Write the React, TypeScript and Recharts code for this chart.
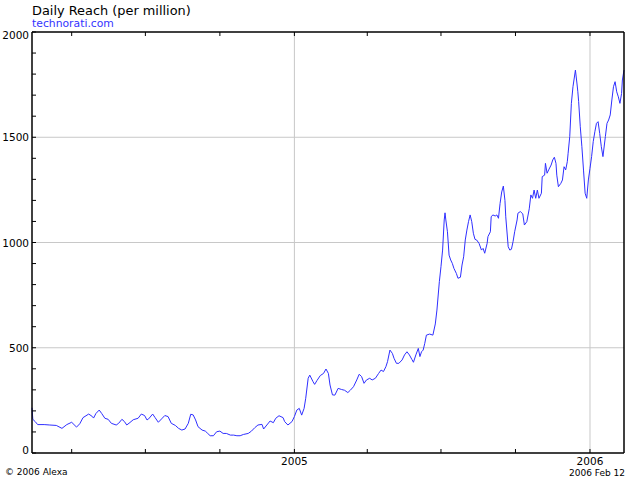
import { LineChart, Line, XAxis, YAxis, ReferenceLine } from "recharts";

// days since 2004 Feb 12
const days = [
  0, 1, 4, 7, 15, 22, 30, 37, 43, 49,
  55, 59, 63, 70, 74, 76, 79, 83, 86, 90,
  94, 98, 104, 107, 111, 114, 117, 121, 125, 131,
  135, 139, 142, 144, 149, 152, 156, 160, 164, 168,
  172, 177, 181, 185, 189, 193, 196, 199, 202, 205,
  210, 214, 217, 220, 224, 228, 232, 236, 240, 245,
  249, 253, 257, 261, 267, 271, 275, 279, 284, 286,
  290, 294, 298, 301, 305, 310, 312, 316, 321, 324,
  327, 330, 333, 336, 338, 341, 343, 347, 349, 352,
  356, 360, 363, 366, 368, 371, 374, 378, 382, 386,
  390, 393, 397, 401, 404, 407, 410, 413, 417, 420,
  424, 428, 431, 434, 437, 439, 442, 445, 447, 450,
  453, 457, 460, 463, 466, 469, 471, 474, 477, 479,
  481, 483, 485, 487, 491, 495, 498, 500, 503, 505,
  507, 509, 510, 511, 513, 515, 517, 519, 521, 524,
  526, 529, 531, 533, 535, 537, 539, 541, 543, 545,
  547, 549, 552, 555, 557, 559, 562, 563, 566, 567,
  569, 572, 574, 576, 578, 580, 582, 584, 585, 588,
  590, 592, 594, 596, 599, 600, 603, 606, 608, 611,
  614, 616, 618, 620, 622, 624, 626, 629, 630, 633,
  634, 636, 638, 641, 643, 645, 647, 648, 650, 653,
  655, 657, 659, 661, 662, 664, 666, 668, 671, 673,
  674, 675, 677, 679, 681, 683, 685, 687, 689, 691,
  693, 695, 697, 699, 701, 703, 705, 708, 710, 712,
  714, 716, 718, 720, 722, 724, 726, 728, 729, 731,
];

// daily reach per million
const reach = [
  215, 160, 149, 135, 135, 133, 131, 117, 135, 146,
  123, 139, 168, 185, 175, 166, 188, 204, 188, 165,
  160, 141, 133, 141, 160, 150, 133, 145, 158, 165,
  185, 178, 157, 162, 185, 168, 146, 162, 178, 173,
  141, 131, 117, 109, 114, 141, 184, 181, 157, 125,
  109, 104, 93, 82, 82, 101, 104, 93, 93, 85,
  85, 82, 82, 88, 93, 104, 120, 133, 136, 114,
  133, 152, 144, 165, 177, 168, 149, 133, 149, 173,
  204, 212, 180, 212, 260, 355, 370, 339, 326, 345,
  368, 378, 399, 378, 323, 276, 275, 307, 302, 298,
  287, 298, 315, 347, 374, 363, 331, 347, 355, 347,
  355, 378, 394, 387, 410, 434, 489, 473, 450, 426,
  426, 442, 466, 481, 466, 445, 431, 466, 497, 458,
  481, 489, 521, 560, 565, 560, 613, 679, 814, 885,
  964, 1107, 1141, 1107, 1051, 940, 917, 901, 877, 853,
  830, 835, 893, 932, 1012, 1059, 1099, 1131, 1099, 1044,
  1015, 1012, 996, 964, 972, 949, 996, 1028, 1051, 1122,
  1131, 1126, 1131, 1115, 1186, 1240, 1268, 1200, 1122, 980,
  964, 968, 1004, 1051, 1107, 1139, 1147, 1136, 1083, 1099,
  1160, 1226, 1210, 1249, 1210, 1249, 1210, 1234, 1313, 1320,
  1376, 1329, 1345, 1368, 1392, 1405, 1376, 1320, 1265, 1281,
  1297, 1360, 1345, 1384, 1424, 1503, 1661, 1740, 1819, 1753,
  1716, 1669, 1550, 1455, 1344, 1234, 1210, 1297, 1352, 1408,
  1479, 1526, 1566, 1574, 1518, 1455, 1408, 1503, 1566, 1582,
  1606, 1677, 1740, 1764, 1716, 1692, 1661, 1708, 1772, 1819,
];

const quarterDays = [49, 140, 232, 324, 414, 505, 597, 689];
const yearDays = [324, 689];
const yearLabels = ["2005", "2006"];
const reachTicks = [
  0, 100, 200, 300, 400, 500, 600, 700, 800, 900, 1000,
  1100, 1200, 1300, 1400, 1500, 1600, 1700, 1800, 1900, 2000,
];
const labelledReach = [0, 500, 1000, 1500, 2000];
const gridReach = [500, 1000, 1500];

const data = days.map((day, i) => ({ day, reach: reach[i] }));

const FONT = "DejaVu Sans, Verdana, sans-serif";
const GRID = "#c8c8c8";

function LeftTick({ x, y, payload }: any) {
  const v = payload.value;
  const labelled = labelledReach.includes(v);
  let ty = y + 4;
  if (v === 2000) ty = y + 7;
  if (v === 0) ty = y + 1;
  return (
    <g>
      <line x1={x} x2={x + 4} y1={y} y2={y} stroke="#000" />
      {labelled && (
        <text x={x - 3} y={ty} textAnchor="end" fontSize={10.5} fontFamily={FONT} fill="#000">
          {v}
        </text>
      )}
    </g>
  );
}

function RightTick({ x, y }: any) {
  return <line x1={x} x2={x - 4} y1={y} y2={y} stroke="#000" />;
}

function BottomTick({ x, y, payload }: any) {
  const i = yearDays.indexOf(payload.value);
  return (
    <g>
      <line x1={x} x2={x} y1={y} y2={y - 4} stroke="#000" />
      {i >= 0 && (
        <text x={x} y={y + 12} textAnchor="middle" fontSize={10.5} fontFamily={FONT} fill="#000">
          {yearLabels[i]}
        </text>
      )}
    </g>
  );
}

function TopTick({ x, y }: any) {
  return <line x1={x} x2={x} y1={y} y2={y + 4} stroke="#000" />;
}

export default function App() {
  return (
    <div style={{ position: "absolute", left: 0, top: 0, width: 640, height: 480, background: "#fff" }}>
      <LineChart width={640} height={480} data={data} margin={{ top: 0, right: 0, bottom: 0, left: 0 }}>
        <XAxis
          dataKey="day"
          type="number"
          domain={[0, 731]}
          ticks={quarterDays}
          interval={0}
          height={27}
          tickSize={0}
          tickMargin={0}
          tickLine={false}
          axisLine={{ stroke: "#000", strokeWidth: 1.5 }}
          tick={<BottomTick />}
        />
        <XAxis
          xAxisId="top"
          orientation="top"
          dataKey="day"
          type="number"
          domain={[0, 731]}
          ticks={quarterDays}
          interval={0}
          height={32}
          tickSize={0}
          tickMargin={0}
          tickLine={false}
          axisLine={{ stroke: "#000", strokeWidth: 1.5 }}
          tick={<TopTick />}
        />
        <YAxis
          type="number"
          domain={[0, 2000]}
          ticks={reachTicks}
          interval={0}
          width={32}
          tickSize={0}
          tickMargin={0}
          tickLine={false}
          axisLine={{ stroke: "#000", strokeWidth: 1.5 }}
          tick={<LeftTick />}
        />
        <YAxis
          yAxisId="right"
          orientation="right"
          type="number"
          domain={[0, 2000]}
          ticks={reachTicks}
          interval={0}
          width={16}
          tickSize={0}
          tickMargin={0}
          tickLine={false}
          axisLine={{ stroke: "#000", strokeWidth: 1.5 }}
          tick={<RightTick />}
        />
        {gridReach.map((v) => (
          <ReferenceLine key={"h" + v} y={v} stroke={GRID} strokeWidth={1} />
        ))}
        {yearDays.map((d) => (
          <ReferenceLine key={"v" + d} x={d} stroke={GRID} strokeWidth={1} />
        ))}
        <Line
          type="linear"
          dataKey="reach"
          stroke="#2f2fff"
          strokeWidth={1}
          dot={false}
          isAnimationActive={false}
        />
      </LineChart>
      <svg
        width={640}
        height={480}
        style={{ position: "absolute", left: 0, top: 0, pointerEvents: "none" }}
      >
        <text x={32} y={15} fontSize={12.9} fontFamily={FONT} fill="#000">
          Daily Reach (per million)
        </text>
        <text x={32} y={27} fontSize={10.8} fontFamily={FONT} fill="#3333ff">
          technorati.com
        </text>
        <text x={5} y={475} fontSize={9} fontFamily={FONT} fill="#000">
          © 2006 Alexa
        </text>
        <text x={625} y={476} fontSize={9} fontFamily={FONT} fill="#000" textAnchor="end">
          2006 Feb 12
        </text>
      </svg>
    </div>
  );
}
